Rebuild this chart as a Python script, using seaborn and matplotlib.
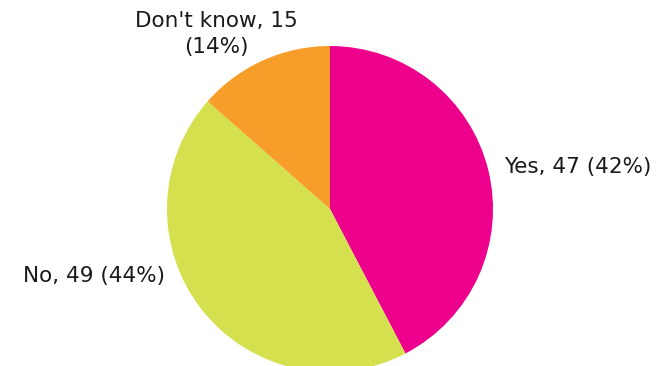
import matplotlib
matplotlib.use("Agg")
import matplotlib.pyplot as plt
import seaborn as sns

categories = ["Yes", "No", "Don't know"]
counts = [47, 49, 15]
colors = ["#EC008C", "#D5E04F", "#F79D29"]
label_texts = ["Yes, 47 (42%)", "No, 49 (44%)", "Don't know, 15\n(14%)"]

sns.set_theme(style="white")
plt.rcParams["font.family"] = ["DejaVu Sans"]

W, H = 667, 366
fig = plt.figure(figsize=(W / 100, H / 100), dpi=100)
cx, cy, r = 330, 209, 163
ax = fig.add_axes([(cx - r) / W, (H - cy - r) / H, 2 * r / W, 2 * r / H])
ax.pie(counts, colors=colors, startangle=90, counterclock=False,
       wedgeprops=dict(linewidth=0), radius=1.0)
ax.set_xlim(-1, 1)
ax.set_ylim(-1, 1)
ax.set_aspect("equal")
ax.axis("off")

# label anchor points (axes data units) and alignments
label_pos = [(1.065, 0.26, "left"), (-1.01, -0.41, "right"), (-0.70, 1.075, "center")]
for txt, (x, y, ha) in zip(label_texts, label_pos):
    ax.text(x, y, txt, ha=ha, va="center", fontsize=15.5, fontfamily="DejaVu Sans",
            color="#1a1a1a", linespacing=1.4, clip_on=False)

fig.savefig("out.png", dpi=100)
